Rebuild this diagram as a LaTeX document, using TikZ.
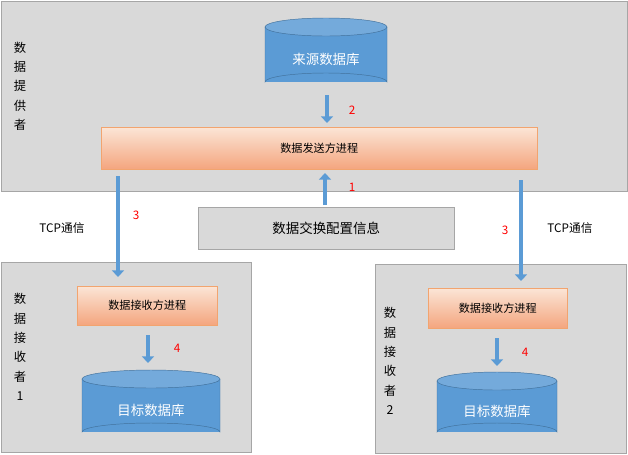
\documentclass[tikz,border=0pt]{standalone}
\usepackage{fontspec}
\setmainfont{Noto Sans CJK SC}
\usetikzlibrary{arrows.meta}
\definecolor{gbox}{HTML}{D9D9D9}
\definecolor{gline}{HTML}{A6A6A6}
\definecolor{cyl}{HTML}{5B9BD5}
\definecolor{cylb}{HTML}{41719C}
\definecolor{orT}{HTML}{FBE5D6}
\definecolor{orB}{HTML}{F4A57E}
\definecolor{orL}{HTML}{ED7D31}
\tikzset{
 grayb/.style={draw=gline,fill=gbox},
 procbox/.style={draw=orL!70,top color=orT,bottom color=orB,font=\fontsize{9.5}{10}\selectfont},
 flow/.style={draw=cyl,line width=1.3mm,-{Triangle[width=3.6mm,length=2mm]}},
 num/.style={text=red,font=\fontsize{10}{12}\selectfont},
 lbl/.style={font=\fontsize{10}{12}\selectfont},
 vlbl/.style={font=\fontsize{10.5}{16.5}\selectfont,align=center,inner sep=0},
}
\newcommand{\mycyl}[5]{% x1 x2 ytop ybot text
 \fill[cyl] (#1,#3) rectangle (#2,#4);
 \draw[cylb,fill=cyl] (#1,#3) -- (#1,#4) arc[start angle=180,end angle=360,x radius={(#2-#1)/2},y radius=9] -- (#2,#3);
 \draw[cylb,fill=cyl!85!white] ({(#1+#2)/2},#3) ellipse[x radius={(#2-#1)/2},y radius=9];
 \node[text=white,font=\fontsize{11.5}{13}\selectfont] at ({(#1+#2)/2},{(#3+#4)/2+5}) {#5};
}
\begin{document}
\begin{tikzpicture}[x=0.3mm,y=-0.3mm]
\useasboundingbox (0,0) rectangle (628,454);
\node[grayb,minimum width=626*0.3mm,minimum height=190*0.3mm,inner sep=0,anchor=north west] (top) at (0.5,0.5) {};
\node[grayb,minimum width=250*0.3mm,minimum height=190*0.3mm,inner sep=0,anchor=north west] (bl) at (0.5,262) {};
\node[grayb,minimum width=251*0.3mm,minimum height=189*0.3mm,inner sep=0,anchor=north west] (br) at (375,264) {};
\node[grayb,minimum width=256*0.3mm,minimum height=42*0.3mm,inner sep=0,anchor=north west,font=\fontsize{11.5}{13}\selectfont] (cfg) at (198,207) {数据交换配置信息};
\node[procbox,minimum width=436*0.3mm,minimum height=42*0.3mm,inner sep=0,anchor=north west] (send) at (101,127) {数据发送方进程};
\node[procbox,minimum width=140*0.3mm,minimum height=39*0.3mm,inner sep=0,anchor=north west] (rl) at (77,286) {数据接收方进程};
\node[procbox,minimum width=139*0.3mm,minimum height=40*0.3mm,inner sep=0,anchor=north west] (rr) at (428,288) {数据接收方进程};
\mycyl{265}{387}{27}{82}{来源数据库}
\mycyl{82}{220}{379}{432}{目标数据库}
\mycyl{437}{557}{381}{432}{目标数据库}
\node[vlbl] (t1) at (20,86) {数\\据\\提\\供\\者};
\node[vlbl] (t2) at (20,347) {数\\据\\接\\收\\者\\1};
\node[vlbl] (t3) at (390,361) {数\\据\\接\\收\\者\\2};
\coordinate (a1) at (327,95); \coordinate (a2) at (327,123);
\draw[flow] (a1) -- (a2);
\node[num] (n2) at (352,110) {2};
\coordinate (b1) at (325,205); \coordinate (b2) at (325,173);
\draw[flow] (b1) -- (b2);
\node[num] (n1) at (352,187) {1};
\coordinate (c1) at (118,176); \coordinate (c2) at (118,277);
\draw[flow] (c1) -- (c2);
\node[num] (n3) at (136,215) {3};
\node[lbl] (tcp1) at (62,228) {TCP通信};
\coordinate (d1) at (521,180); \coordinate (d2) at (521,281);
\draw[flow] (d1) -- (d2);
\node[num] (n3b) at (505,230) {3};
\node[lbl] (tcp2) at (570,228) {TCP通信};
\coordinate (e1) at (148,335); \coordinate (e2) at (148,363);
\draw[flow] (e1) -- (e2);
\node[num] (n4) at (177,348) {4};
\coordinate (f1) at (497,338); \coordinate (f2) at (497,366);
\draw[flow] (f1) -- (f2);
\node[num] (n4b) at (525,352) {4};
\end{tikzpicture}
\end{document}
